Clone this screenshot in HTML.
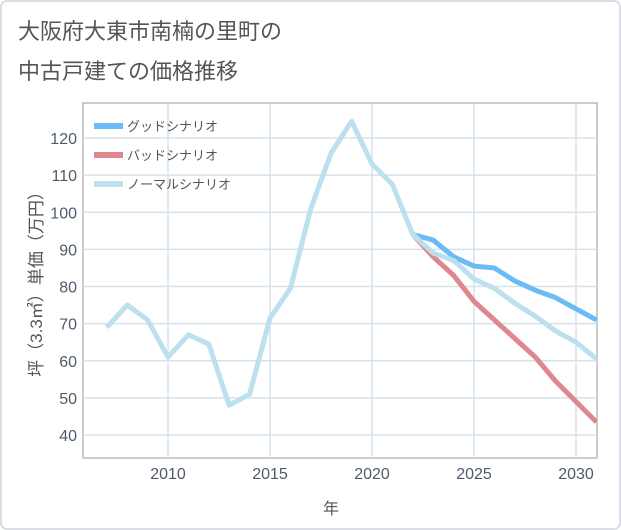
<!DOCTYPE html>
<html><head><meta charset="utf-8"><style>
body{margin:0;background:#fff}
#wrap{position:relative;width:621px;height:530px;overflow:hidden;font-family:"Liberation Sans","Noto Sans CJK JP",sans-serif}
</style></head><body>
<div id="wrap">
<svg id="svg" width="621" height="530" xmlns="http://www.w3.org/2000/svg">
<rect x="1" y="1" width="619" height="528" rx="6" fill="#fff" stroke="#cfd3dc" stroke-width="1.5"/>
<text x="18" y="39" font-size="22" fill="#555" font-family="Liberation Sans,Noto Sans CJK JP,sans-serif">大阪府大東市南楠の里町の</text>
<text x="18" y="79" font-size="22" fill="#555" font-family="Liberation Sans,Noto Sans CJK JP,sans-serif">中古戸建ての価格推移</text>
<g id="grid"></g>
<g id="series"></g>
<g id="legend"></g>
<text x="331" y="514" font-size="16" fill="#555" text-anchor="middle" font-family="Liberation Sans,Noto Sans CJK JP,sans-serif">年</text>
<text transform="translate(42,280) rotate(-90)" font-size="17" fill="#555" text-anchor="middle" font-family="Liberation Sans,Noto Sans CJK JP,sans-serif">坪（3.3㎡）単価（万円）</text>
</svg>
</div>
<script>
const years=[2007,2008,2009,2010,2011,2012,2013,2014,2015,2016,2017,2018,2019,2020,2021,2022,2023,2024,2025,2026,2027,2028,2029,2030,2031];
const normalValues=[69,75,71,61,67,64.5,48,51,71.5,79.5,101,116,124.5,113,107.5,94,89,87,82,79.5,75.5,72,68,65,60.5];
const forecastYears=[2022,2023,2024,2025,2026,2027,2028,2029,2030,2031];
const goodValues=[94,92.5,88,85.5,85,81.5,79,77,74,71];
const badValues=[94,88,83,76,71,66,61,54.5,49,43.5];
const xTicks=[2010,2015,2020,2025,2030];
const yTicks=[40,50,60,70,80,90,100,110,120];
const L=83,R=597,T=103,B=458;
const x=v=>168+(v-2010)*20.4;
const y=v=>138+(120-v)*3.7125;
const NS="http://www.w3.org/2000/svg";
function mk(tag,attrs,parent){const e=document.createElementNS(NS,tag);for(const k in attrs)e.setAttribute(k,attrs[k]);parent.appendChild(e);return e;}
const grid=document.getElementById('grid');
mk('rect',{x:L,y:T,width:R-L,height:B-T,fill:'none',stroke:'#999','stroke-width':1},grid);
yTicks.forEach(t=>{
 const l=mk('line',{x1:L,x2:R,y1:y(t),y2:y(t),stroke:'#d5e1ec','stroke-width':1.5},grid);
 
 
 const tx=mk('text',{x:L-6,y:y(t)+6,'text-anchor':'end','font-size':16,fill:'#4e5b6a','font-family':'Liberation Sans,sans-serif'},grid);
 tx.textContent=t;
 
 
});
xTicks.forEach(t=>{
 const l=mk('line',{x1:x(t),x2:x(t),y1:T,y2:B,stroke:'#d5e1ec','stroke-width':1.5},grid);
 
 
 const tx=mk('text',{x:x(t),y:B+21,'text-anchor':'middle','font-size':16,fill:'#4e5b6a','font-family':'Liberation Sans,sans-serif'},grid);
 tx.textContent=t;
 
 
});
const ser=document.getElementById('series');
function line(xs,vs,color,name){
 const p=mk('polyline',{points:xs.map((d,i)=>x(d)+','+y(vs[i])).join(' '),fill:'none',stroke:color,'stroke-width':5,'stroke-linejoin':'round'},ser);
 
 
}
const clip=mk('clipPath',{id:'c'},document.getElementById('svg'));
mk('rect',{x:L,y:T,width:R-L,height:B-T},clip);
ser.setAttribute('clip-path','url(#c)');
line(forecastYears,goodValues,'#6bbcf5','good-scenario-line');
line(forecastYears,badValues,'#e0868e','bad-scenario-line');
line(years,normalValues,'#bde0ef','normal-scenario-line');
const lg=document.getElementById('legend');
[['グッドシナリオ','#6bbcf5','legend-good'],['バッドシナリオ','#e0868e','legend-bad'],['ノーマルシナリオ','#bde0ef','legend-normal']].forEach((d,i)=>{
 const yy=126+i*29;
 const g=mk('g',{},lg);
 
 
 mk('rect',{x:94,y:yy-3,width:29,height:6,fill:d[1]},g);
 const t=mk('text',{x:127,y:yy+5,'font-size':13,fill:'#555','font-family':'Liberation Sans,Noto Sans CJK JP,sans-serif'},g);
 t.textContent=d[0];
});
</script>
</body></html>
